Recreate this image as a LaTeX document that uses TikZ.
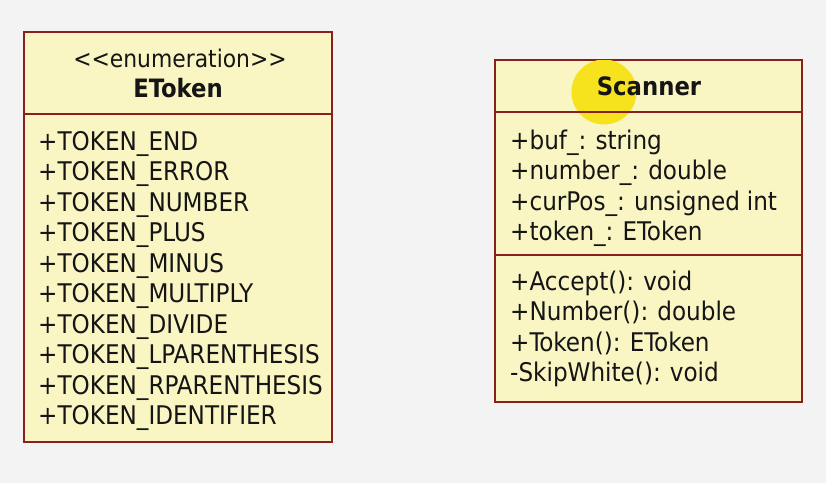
\documentclass[tikz,border=0pt]{standalone}
\usepackage{fontspec}
\setmainfont{DejaVu Sans Condensed}
\definecolor{bg}{HTML}{F3F3F3}
\definecolor{boxfill}{HTML}{FAF6C4}
\definecolor{boxline}{HTML}{8A1F1F}
\definecolor{txt}{HTML}{151515}
\definecolor{spot}{HTML}{F6E31E}
\newcommand\umlitemfont{\fontsize{25.7}{30}\selectfont\spaceskip=0.26em plus 0.1em\relax}
\begin{document}
\begin{tikzpicture}[x=1pt,y=-1pt,
  umlbox/.style={draw=boxline, fill=boxfill, line width=1.4pt, inner sep=0pt, rectangle},
  divider/.style={draw=boxline, line width=1.4pt},
  item/.style={anchor=base west, inner sep=0pt, text=txt, font=\umlitemfont},
  title/.style={anchor=base, inner sep=0pt, text=txt, font=\fontsize{25.3}{30}\selectfont\bfseries},
  stereo/.style={anchor=base, inner sep=0pt, text=txt, font=\fontsize{24.3}{30}\selectfont}]
\fill[bg] (0,0) rectangle (826,483);
\useasboundingbox (0,0) rectangle (826,483);
% EToken box
\node[umlbox, minimum width=308pt, minimum height=410pt] (etok) at (178,237) {};
\coordinate (ediv) at (24,114);
\draw[divider] (ediv) -- (ediv -| etok.east);
\node[stereo] (estereo) at (180,67) {<{}<enumeration>{}>};
\node[title] (etitle) at (178,97) {EToken};
\foreach \t [count=\i] in {+TOKEN\_END,+TOKEN\_ERROR,+TOKEN\_NUMBER,+TOKEN\_PLUS,+TOKEN\_MINUS,+TOKEN\_MULTIPLY,+TOKEN\_DIVIDE,+TOKEN\_LPARENTHESIS,+TOKEN\_RPARENTHESIS,+TOKEN\_IDENTIFIER}
  \node[item] (e\i) at (38,{150+30.5*(\i-1)}) {\t};
% Scanner box
\node[umlbox, minimum width=307pt, minimum height=342pt] (scan) at (648.5,231) {};
\fill[spot] (604,92) circle (32.5pt);
\coordinate (sdiv1) at (495,112);
\coordinate (sdiv2) at (495,255);
\draw[divider] (sdiv1) -- (sdiv1 -| scan.east);
\draw[divider] (sdiv2) -- (sdiv2 -| scan.east);
\draw[boxline, line width=1.4pt] (scan.north west) rectangle (scan.south east);
\node[title] (stitle) at (649,95) {Scanner};
\node[item] (s1) at (510,149) {+buf\_: string};
\node[item] (s2) at (510,179.5) {+number\_: double};
\node[item] (s3) at (510,210) {+curPos\_: unsigned int};
\node[item] (s4) at (510,240.5) {+token\_: EToken};
\node[item] (m1) at (510,290) {+Accept(): void};
\node[item] (m2) at (510,320.5) {+Number(): double};
\node[item] (m3) at (510,351) {+Token(): EToken};
\node[item] (m4) at (510,381.5) {-SkipWhite(): void};
\end{tikzpicture}
\end{document}
